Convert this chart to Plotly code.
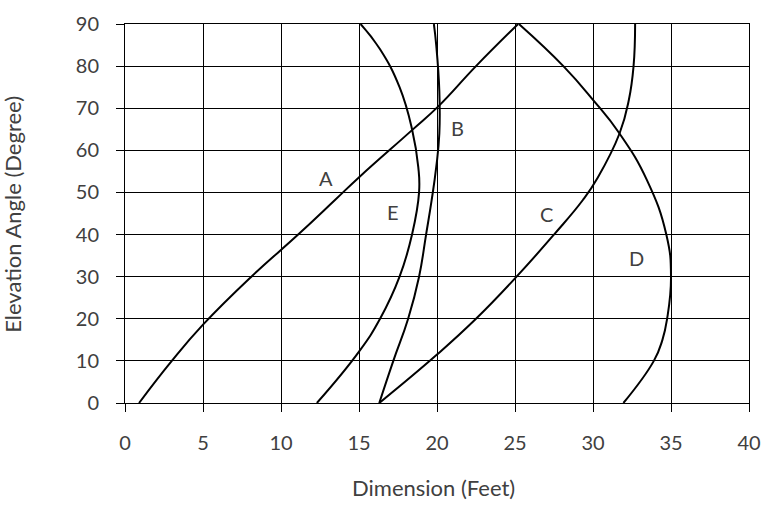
import plotly.graph_objects as go

# Curve data (x = dimension in feet, y = elevation angle in degrees)
a_x = [0.9, 3.0, 5.0, 8.1, 11.1, 13.46, 15.06, 18.4, 20.1, 22.5, 25.2]
a_y = [0, 10, 18.6, 30, 40, 48.2, 53.8, 64.8, 70.5, 80, 90]

b_x = [16.3, 17.2, 18.15, 18.85, 19.3, 19.65, 19.95, 20.15, 20.15, 19.95, 19.8]
b_y = [0, 10, 20, 30, 40, 48, 56, 64, 74, 85, 90]

c_x = [16.3, 20.0, 22.5, 25.1, 27.5, 29.35, 30.3, 31.7, 32.3, 32.6, 32.7]
c_y = [0, 11.5, 20, 30, 40, 48.2, 53.5, 64, 72, 80, 90]

d_x = [31.95, 33.9, 34.45, 34.75, 35.0, 34.7, 33.45, 31.7, 30.0, 28.1, 25.25]
d_y = [0, 10, 15, 20, 30, 40, 53, 64, 72, 80, 90]

e_x = [12.3, 15.0, 16.35, 17.6, 18.4, 18.85, 18.8, 18.4, 17.6, 16.35, 15.1]
e_y = [0, 12.2, 20, 30, 40, 50, 56, 65, 75, 84, 90]

label_text = ["A", "B", "C", "D", "E"]
label_x = [12.9, 21.3, 27.05, 32.8, 17.2]
label_y = [53.5, 65.3, 45.0, 34.5, 45.3]

x_ticks = [0, 5, 10, 15, 20, 25, 30, 35, 40]
y_ticks = [0, 10, 20, 30, 40, 50, 60, 70, 80, 90]

x_title = "Dimension (Feet)"
y_title = "Elevation Angle (Degree)"

FONT = "Lato"
TXT = "#404040"

fig = go.Figure()
for xs, ys in [(a_x, a_y), (b_x, b_y), (c_x, c_y), (d_x, d_y), (e_x, e_y)]:
    fig.add_trace(go.Scatter(x=xs, y=ys, mode="lines",
                             line=dict(color="black", width=2, shape="spline", smoothing=1.3),
                             showlegend=False, hoverinfo="skip"))

for t, x, y in zip(label_text, label_x, label_y):
    fig.add_annotation(x=x, y=y, text=t, showarrow=False,
                       font=dict(family=FONT, size=20, color=TXT))

# axis titles
fig.add_annotation(xref="paper", yref="paper", x=0.495, y=-0.2233, text=x_title,
                   showarrow=False, xanchor="center", yanchor="middle",
                   font=dict(family=FONT, size=22, color=TXT))
fig.add_annotation(xref="paper", yref="paper", x=-0.1795, y=0.499, text=y_title,
                   showarrow=False, xanchor="center", yanchor="middle", textangle=-90,
                   font=dict(family=FONT, size=22, color=TXT))

axis_common = dict(showgrid=True, gridcolor="black", gridwidth=1,
                   showline=True, linecolor="black", linewidth=1, mirror=True,
                   ticks="outside", ticklen=8, tickcolor="black", tickwidth=1,
                   zeroline=False, automargin=False,
                   tickfont=dict(family=FONT, size=20, color=TXT))

fig.update_xaxes(range=[0, 40], tickvals=x_ticks, ticklabelstandoff=14, **axis_common)
fig.update_yaxes(range=[0, 90], tickvals=y_ticks, ticklabelstandoff=13, **axis_common)

fig.update_layout(width=765, height=508,
                  margin=dict(l=125, r=16, t=24, b=105),
                  plot_bgcolor="white", paper_bgcolor="white")

fig.write_html("out.html", config={"displayModeBar": False},
               post_script="document.body.style.margin='0';")
